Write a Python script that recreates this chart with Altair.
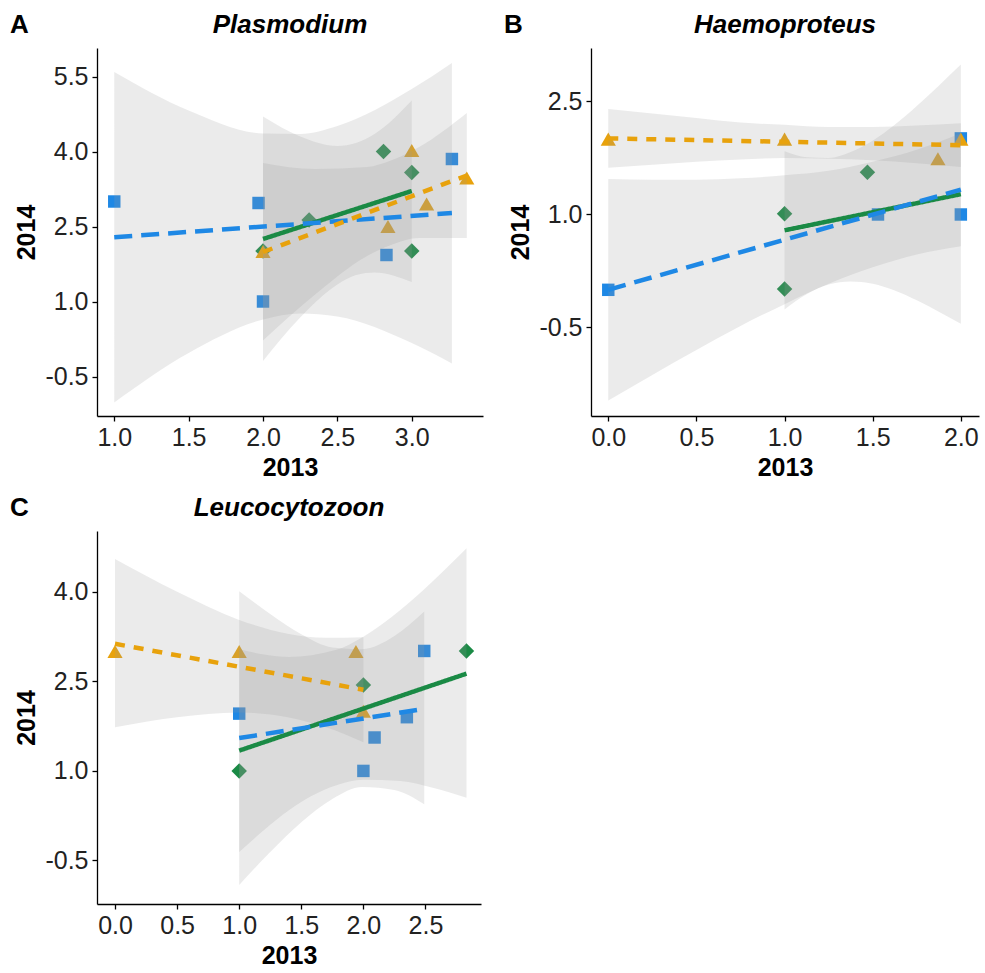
import altair as alt
import pandas as pd

# ---------------- groups / styling ----------------
GROUPS = ["G1", "G2", "G3"]            # blue squares, green diamonds, orange triangles
COLORS = ["#1E88E5", "#1A8A45", "#E8A20C"]
SHAPES = ["square", "diamond", "triangle-up"]
SIZES = [155, 240, 230]
DASHES = [[18, 9], [1, 0], [10, 9]]

# ---------------- Panel A: Plasmodium ----------------
A_G1_X = [1.0, 1.97, 2.0, 2.83, 3.27]
A_G1_Y = [3.0, 2.97, 1.0, 1.93, 3.85]
A_G2_X = [2.0, 2.31, 2.81, 3.0, 3.0]
A_G2_Y = [2.01, 2.63, 4.0, 3.58, 2.01]
A_G3_X = [2.0, 2.84, 3.0, 3.1, 3.37]
A_G3_Y = [2.0, 2.5, 4.02, 2.95, 3.47]
A_FIT_X = [[1.0, 3.27], [2.0, 3.0], [2.0, 3.37]]
A_FIT_Y = [[2.285, 2.769], [2.25, 3.21], [1.99, 3.52]]
A_BAND_X = [[1.0, 1.5, 2.0, 2.25, 2.5, 3.0, 3.27],
            [2.0, 2.25, 2.5, 2.625, 2.75, 3.0],
            [2.0, 2.35, 2.7, 2.86, 3.05, 3.37]]
A_BAND_LO = [[-1.02, -0.03, 0.64, 0.76, 0.70, 0.17, -0.24],
             [-0.19, 0.68, 1.34, 1.53, 1.58, 1.39],
             [0.22, 1.14, 1.91, 2.13, 2.27, 2.27]]
A_BAND_HI = [[5.59, 4.82, 4.36, 4.35, 4.51, 5.25, 5.77],
             [4.70, 4.30, 4.11, 4.17, 4.35, 5.02],
             [3.77, 3.65, 3.69, 3.82, 4.09, 4.77]]
A_XTICKS = [1.0, 1.5, 2.0, 2.5, 3.0]
A_YTICKS = [-0.5, 1.0, 2.5, 4.0, 5.5]

# ---------------- Panel B: Haemoproteus ----------------
B_G1_X = [0.0, 1.53, 2.0, 2.0]
B_G1_Y = [0.0, 1.0, 1.0, 2.01]
B_G2_X = [1.0, 1.0, 1.47]
B_G2_Y = [1.01, 0.01, 1.56]
B_G3_X = [0.0, 1.0, 1.87, 2.0]
B_G3_Y = [2.0, 2.0, 1.74, 2.0]
B_FIT_X = [[0.0, 2.0], [1.0, 2.0], [0.0, 2.0]]
B_FIT_Y = [[0.0, 1.33], [0.79, 1.27], [2.01, 1.92]]
B_BAND_X = [[0.0, 0.25, 0.5, 0.75, 1.0, 1.25, 1.5, 1.75, 2.0],
            [1.0, 1.125, 1.25, 1.375, 1.5, 1.625, 1.75, 1.875, 2.0],
            [0.0, 0.25, 0.5, 0.75, 1.0, 1.25, 1.5, 1.75, 2.0]]
B_BAND_LO = [[-1.47, -1.13, -0.80, -0.48, -0.19, 0.08, 0.30, 0.47, 0.58],
             [-0.26, -0.06, 0.07, 0.11, 0.08, -0.01, -0.14, -0.29, -0.45],
             [1.62, 1.66, 1.70, 1.73, 1.75, 1.74, 1.72, 1.68, 1.63]]
B_BAND_HI = [[1.47, 1.46, 1.46, 1.48, 1.52, 1.58, 1.70, 1.86, 2.08],
             [1.84, 1.76, 1.75, 1.83, 1.98, 2.19, 2.44, 2.71, 2.99],
             [2.40, 2.34, 2.28, 2.22, 2.19, 2.16, 2.16, 2.18, 2.21]]
B_XTICKS = [0.0, 0.5, 1.0, 1.5, 2.0]
B_YTICKS = [-0.5, 1.0, 2.5]

# ---------------- Panel C: Leucocytozoon ----------------
C_G1_X = [1.0, 2.0, 2.09, 2.35, 2.49]
C_G1_Y = [1.96, 1.0, 1.56, 1.90, 3.01]
C_G2_X = [1.0, 2.0, 2.83]
C_G2_Y = [1.0, 2.44, 3.01]
C_G3_X = [0.0, 1.0, 1.94, 2.0]
C_G3_Y = [3.0, 3.0, 3.0, 2.0]
C_FIT_X = [[1.0, 2.49], [1.0, 2.83], [0.0, 2.0]]
C_FIT_Y = [[1.55, 2.04], [1.34, 2.63], [3.13, 2.36]]
C_BAND_X = [[1.0, 1.25, 1.5, 1.75, 1.99, 2.25, 2.49],
            [1.0, 1.2, 1.4, 1.77, 2.0, 2.3, 2.55, 2.83],
            [0.0, 0.5, 1.0, 1.39, 1.7, 2.0]]
C_BAND_LO = [[-0.91, -0.36, 0.14, 0.53, 0.73, 0.68, 0.44],
             [-0.36, 0.01, 0.34, 0.75, 0.85, 0.83, 0.72, 0.55],
             [1.73, 1.90, 1.98, 1.90, 1.73, 1.48]]
C_BAND_HI = [[4.01, 3.63, 3.29, 3.07, 3.04, 3.26, 3.67],
             [3.04, 2.95, 2.91, 3.02, 3.25, 3.70, 4.16, 4.73],
             [4.55, 4.00, 3.53, 3.30, 3.23, 3.24]]
C_XTICKS = [0.0, 0.5, 1.0, 1.5, 2.0, 2.5]
C_YTICKS = [-0.5, 1.0, 2.5, 4.0]

FONT = "Liberation Sans"
LABEL_EXPR = ("datum.value < 0 ? '-' + format(abs(datum.value), '.1f') "
              ": format(datum.value, '.1f')")


def points_df(xs_list, ys_list):
    rows = []
    for g, xs, ys in zip(GROUPS, xs_list, ys_list):
        for x, y in zip(xs, ys):
            rows.append({"g": g, "x": x, "y": y})
    return pd.DataFrame(rows)


def fit_df(fx, fy):
    rows = []
    for g, xs, ys in zip(GROUPS, fx, fy):
        for x, y in zip(xs, ys):
            rows.append({"g": g, "x": x, "y": y})
    return pd.DataFrame(rows)


def band_df(bx, blo, bhi):
    rows = []
    for g, xs, los, his in zip(GROUPS, bx, blo, bhi):
        for x, lo, hi in zip(xs, los, his):
            rows.append({"g": g, "x": x, "lo": lo, "hi": hi})
    return pd.DataFrame(rows)


def panel(title, letter, pxs, pys, fx, fy, bx, blo, bhi,
          xdom, ydom, xticks, yticks, w, h):
    xs = alt.Scale(domain=xdom, nice=False, zero=False)
    ys = alt.Scale(domain=ydom, nice=False, zero=False)
    xax = alt.Axis(values=xticks, labelExpr=LABEL_EXPR, title="2013")
    yax = alt.Axis(values=yticks, labelExpr=LABEL_EXPR, title="2014")

    pdf = points_df(pxs, pys)
    ldf = fit_df(fx, fy)
    rdf = band_df(bx, blo, bhi)

    layers = []
    for g, col, shp, sz in zip(GROUPS, COLORS, SHAPES, SIZES):
        layers.append(
            alt.Chart(pdf).transform_filter(alt.datum.g == g)
            .mark_point(filled=True, opacity=1, shape=shp, size=sz,
                        color=col, strokeWidth=0)
            .encode(x=alt.X("x:Q", scale=xs, axis=xax),
                    y=alt.Y("y:Q", scale=ys, axis=yax))
        )
    layers.append(
        alt.Chart(rdf).mark_area(fill="#999999", opacity=0.2,
                                 interpolate="monotone", clip=True)
        .encode(x=alt.X("x:Q", scale=xs, axis=xax),
                y=alt.Y("lo:Q", scale=ys, axis=yax),
                y2="hi:Q", detail="g:N")
    )
    for i in [1, 0, 2]:
        g = GROUPS[i]
        layers.append(
            alt.Chart(ldf).transform_filter(alt.datum.g == g)
            .mark_line(color=COLORS[i], strokeWidth=4.5, strokeDash=DASHES[i],
                       strokeCap="butt")
            .encode(x=alt.X("x:Q", scale=xs, axis=xax),
                    y=alt.Y("y:Q", scale=ys, axis=yax))
        )
    layers.append(
        alt.Chart(pd.DataFrame({"t": [letter]}))
        .mark_text(align="left", baseline="alphabetic", fontSize=26,
                   fontWeight="bold", font=FONT, color="black")
        .encode(x=alt.value(-87), y=alt.value(-15), text="t:N")
    )
    layers.append(
        alt.Chart(pd.DataFrame({"t": [title]}))
        .mark_text(align="center", baseline="alphabetic", fontSize=26,
                   fontWeight="bold", fontStyle="italic", font=FONT,
                   color="black")
        .encode(x=alt.value(w / 2), y=alt.value(-15), text="t:N")
    )
    return alt.layer(*layers).properties(width=w, height=h)


pA = panel("Plasmodium", "A", [A_G1_X, A_G2_X, A_G3_X], [A_G1_Y, A_G2_Y, A_G3_Y],
           A_FIT_X, A_FIT_Y, A_BAND_X, A_BAND_LO, A_BAND_HI,
           [0.884, 3.479], [-1.29, 6.07], A_XTICKS, A_YTICKS, 386, 368)
pB = panel("Haemoproteus", "B", [B_G1_X, B_G2_X, B_G3_X], [B_G1_Y, B_G2_Y, B_G3_Y],
           B_FIT_X, B_FIT_Y, B_BAND_X, B_BAND_LO, B_BAND_HI,
           [-0.098, 2.103], [-1.675, 3.21], B_XTICKS, B_YTICKS, 388, 368)
pC = panel("Leucocytozoon", "C", [C_G1_X, C_G2_X, C_G3_X], [C_G1_Y, C_G2_Y, C_G3_Y],
           C_FIT_X, C_FIT_Y, C_BAND_X, C_BAND_LO, C_BAND_HI,
           [-0.145, 2.947], [-1.23, 5.02], C_XTICKS, C_YTICKS, 384, 373)

chart = (
    alt.vconcat(alt.hconcat(pA, pB, spacing=21), pC, spacing=15)
    .properties(padding={"left": 10, "top": 12, "right": 5, "bottom": 5},
                background="white")
    .configure_view(stroke=None)
    .configure_axis(domainColor="black", domainWidth=1.3, tickColor="black",
                    tickWidth=1.3, tickSize=5, grid=False,
                    labelFont=FONT, labelFontSize=25, labelColor="#222222",
                    labelPadding=4, titleFont=FONT, titleFontSize=25,
                    titleFontWeight="bold", titleColor="black", titlePadding=5)
)

chart.save("out.html", embed_options={"renderer": "svg", "actions": False})
